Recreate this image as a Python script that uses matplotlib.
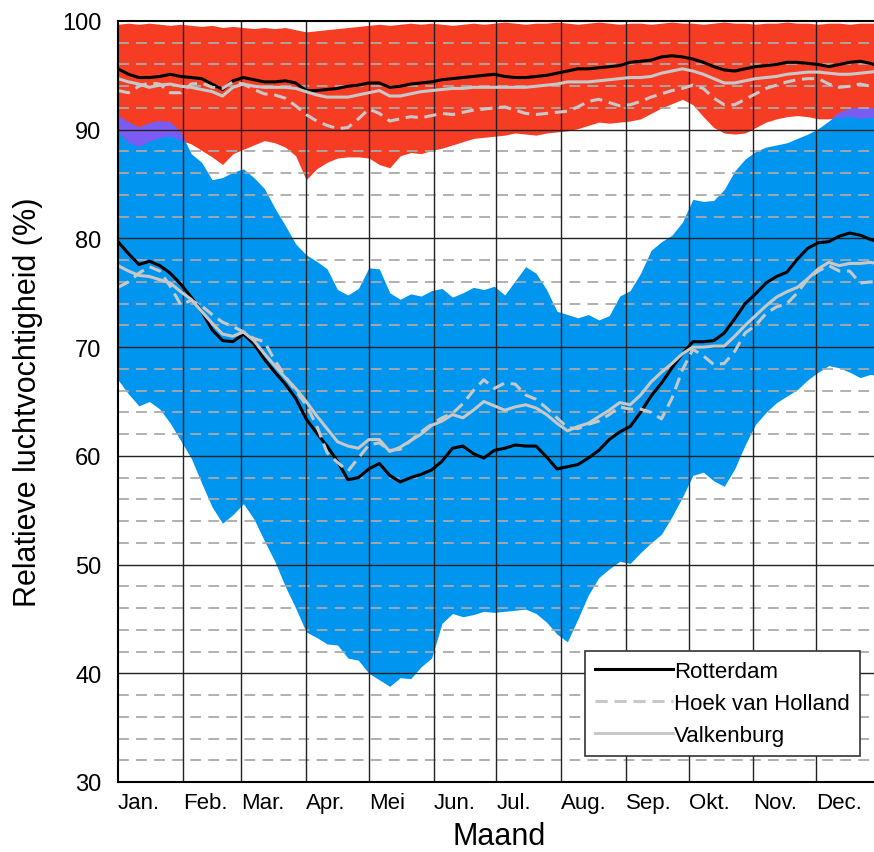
import numpy as np
import matplotlib
matplotlib.use('Agg')
import matplotlib.pyplot as plt

plt.rcParams['font.family'] = ['Liberation Sans', 'DejaVu Sans']

# day of year, every 5 days
days = np.arange(0, 366, 5)

month_starts = [0, 31, 59, 90, 120, 151, 181, 212, 243, 273, 304, 334]
month_labels = ['Jan.', 'Feb.', 'Mar.', 'Apr.', 'Mei', 'Jun.', 'Jul.',
                'Aug.', 'Sep.', 'Okt.', 'Nov.', 'Dec.']

# red band (upper envelope)
red_top = [99.7, 99.8, 99.7, 99.8, 99.7, 99.6, 99.7, 99.6, 99.5, 99.6,
           99.4, 99.5, 99.4, 99.3, 99.4, 99.3, 99.4, 99.2, 99.0, 99.1,
           99.2, 99.3, 99.4, 99.5, 99.6, 99.7, 99.6, 99.7, 99.8, 99.7,
           99.8, 99.7, 99.6, 99.7, 99.8, 99.7, 99.8, 99.9, 99.8, 99.7,
           99.8, 99.8, 99.9, 99.8, 99.7, 99.8, 99.9, 99.8, 99.7, 99.8,
           99.8, 99.7, 99.8, 99.9, 99.8, 99.8, 99.7, 99.8, 99.9, 99.8,
           99.8, 99.7, 99.8, 99.8, 99.9, 99.8, 99.8, 99.7, 99.8, 99.8,
           99.7, 99.8, 99.8, 99.8]
red_bot = [89.8, 88.8, 88.4, 88.9, 89.2, 89.4, 89.0, 88.7, 88.1, 87.5,
           86.8, 87.8, 88.2, 88.6, 89.0, 88.8, 88.4, 87.6, 85.4, 86.4,
           87.0, 87.4, 87.5, 87.5, 87.4, 86.8, 86.5, 87.6, 87.9, 87.8,
           88.1, 88.3, 88.6, 88.9, 89.2, 89.3, 89.4, 89.5, 89.7, 89.6,
           89.5, 89.7, 89.8, 89.9, 90.1, 90.4, 90.7, 90.6, 90.7, 90.8,
           91.0, 91.5, 92.0, 92.4, 92.8, 92.3, 91.2, 90.2, 89.7, 89.6,
           89.7, 90.2, 90.7, 91.0, 91.2, 91.3, 91.2, 91.0, 91.0, 91.1,
           91.2, 91.0, 91.1, 91.1]

# blue band (lower envelope)
blue_top = [91.3, 90.7, 90.2, 90.6, 90.8, 90.7, 89.8, 87.8, 87.0, 85.4,
            85.6, 86.1, 86.4, 85.6, 84.6, 82.8, 81.2, 79.5, 78.5, 77.9,
            77.2, 75.3, 74.8, 75.4, 77.3, 77.2, 75.0, 74.4, 74.9, 74.7,
            75.2, 75.4, 74.6, 75.0, 75.5, 75.3, 75.6, 74.8, 76.1, 77.4,
            76.8, 75.3, 73.3, 73.0, 72.7, 73.0, 72.5, 72.9, 74.7, 75.2,
            76.8, 78.9, 79.7, 80.3, 81.5, 83.6, 83.4, 83.5, 84.5, 86.2,
            87.3, 88.0, 88.4, 88.6, 88.8, 89.2, 89.6, 90.1, 90.8, 91.6,
            91.9, 92.1, 92.0, 91.8]
blue_bot = [67.0, 65.7, 64.6, 65.0, 64.3, 63.0, 61.4, 59.8, 57.5, 55.3,
            53.8, 54.6, 55.6, 54.2, 52.2, 50.3, 48.0, 46.0, 43.8, 43.3,
            42.7, 42.6, 41.4, 41.2, 40.0, 39.4, 38.8, 39.6, 39.5, 40.6,
            41.4, 44.6, 45.5, 45.2, 45.4, 45.7, 45.6, 45.7, 45.8, 45.9,
            45.5, 44.7, 43.6, 42.9, 45.0, 47.2, 48.8, 49.6, 50.3, 50.1,
            51.1, 52.0, 52.8, 54.4, 56.2, 58.2, 58.5, 57.7, 57.2, 58.8,
            61.0, 62.9, 64.0, 64.9, 65.5, 66.1, 67.0, 67.7, 68.3, 68.1,
            67.7, 67.2, 67.5, 67.3]

# stations, lower curves
rot_low = [79.7, 78.6, 77.6, 77.9, 77.5, 76.8, 75.8, 74.6, 73.3, 71.6,
           70.6, 70.5, 71.2, 70.3, 68.9, 67.7, 66.6, 65.3, 63.4, 62.1,
           60.9, 59.5, 57.8, 58.0, 58.8, 59.3, 58.2, 57.6, 58.0, 58.3,
           58.7, 59.5, 60.7, 60.9, 60.2, 59.8, 60.5, 60.7, 61.0, 60.9,
           60.9, 59.9, 58.8, 59.0, 59.2, 59.8, 60.5, 61.5, 62.2, 62.7,
           64.0, 65.5, 66.7, 68.1, 69.4, 70.5, 70.5, 70.6, 71.3, 72.6,
           74.0, 74.9, 75.9, 76.5, 76.9, 78.1, 79.1, 79.6, 79.7, 80.2,
           80.5, 80.3, 79.9, 79.6]
hoek_low = [75.5, 76.0, 76.8, 77.4, 77.0, 75.6, 73.9, 74.3, 73.8, 73.0,
            72.3, 71.9, 71.4, 70.8, 70.5, 68.8, 67.3, 66.0, 64.7, 62.8,
            60.3, 59.4, 58.6, 59.8, 61.0, 61.2, 60.5, 60.6, 61.4, 62.2,
            62.9, 63.5, 63.9, 64.8, 66.0, 67.0, 66.2, 66.7, 66.6, 65.6,
            65.2, 64.4, 63.5, 62.6, 62.5, 62.9, 63.2, 63.8, 64.5, 64.3,
            64.3, 64.0, 63.4, 65.3, 67.9, 69.8, 69.2, 68.4, 68.5, 69.6,
            71.3, 72.0, 73.1, 73.7, 74.0, 75.0, 76.3, 77.0, 77.5, 77.0,
            77.0, 75.9, 76.0, 76.0]
valk_low = [77.5, 77.0, 76.6, 76.5, 76.2, 75.9, 75.1, 74.4, 73.3, 72.2,
            71.2, 71.0, 71.4, 70.6, 69.4, 68.3, 67.2, 66.2, 65.0, 63.7,
            62.5, 61.3, 60.9, 60.7, 61.5, 61.5, 60.4, 60.8, 61.4, 62.0,
            62.8, 63.2, 63.8, 63.5, 64.2, 65.0, 64.6, 64.2, 64.5, 64.7,
            64.4, 63.8, 63.0, 62.3, 62.7, 63.0, 63.6, 64.2, 64.9, 64.7,
            65.6, 66.8, 67.7, 68.5, 69.4, 70.0, 70.0, 70.1, 70.1, 71.0,
            72.0, 72.9, 73.8, 74.6, 75.1, 75.5, 76.3, 77.2, 77.8, 77.5,
            77.7, 77.7, 77.8, 77.6]

# stations, upper curves
rot_up = [95.6, 95.1, 94.8, 94.8, 94.9, 95.1, 94.9, 94.8, 94.7, 94.2,
          93.7, 94.5, 94.8, 94.6, 94.4, 94.4, 94.5, 94.3, 93.6, 93.6,
          93.7, 93.8, 94.0, 94.1, 94.3, 94.3, 93.9, 94.0, 94.2, 94.3,
          94.4, 94.6, 94.7, 94.8, 94.9, 95.0, 95.1, 94.9, 94.8, 94.8,
          94.9, 95.0, 95.2, 95.4, 95.6, 95.6, 95.7, 95.8, 95.9, 96.2,
          96.3, 96.4, 96.7, 96.8, 96.7, 96.5, 96.2, 95.8, 95.5, 95.4,
          95.6, 95.8, 95.9, 96.0, 96.2, 96.2, 96.1, 96.0, 95.8, 96.0,
          96.2, 96.3, 96.1, 95.8]
hoek_up = [93.6, 93.4, 94.0, 94.3, 94.2, 93.4, 93.4, 94.2, 94.3, 93.9,
           93.8, 94.4, 94.2, 93.7, 93.3, 93.2, 92.9, 92.2, 91.4, 90.8,
           90.4, 90.1, 90.2, 91.0, 91.9, 91.5, 90.8, 91.0, 91.2, 91.1,
           91.3, 91.5, 91.4, 91.6, 91.8, 91.9, 92.0, 92.1, 91.8, 91.5,
           91.4, 91.5, 91.6, 91.7, 92.1, 92.6, 92.8, 92.5, 92.2, 92.3,
           92.6, 93.0, 93.3, 93.6, 93.8, 94.1, 93.8, 92.9, 92.3, 92.3,
           92.8, 93.3, 93.8, 94.1, 94.4, 94.6, 94.7, 94.7, 94.2, 93.9,
           94.0, 94.2, 94.0, 93.7]
valk_up = [94.7, 94.4, 94.2, 93.9, 94.1, 94.2, 94.0, 93.9, 93.7, 93.5,
           93.1, 93.9, 94.2, 94.0, 93.9, 93.9, 93.9, 93.8, 93.5, 93.2,
           93.0, 93.0, 93.0, 93.2, 93.4, 93.6, 93.1, 93.1, 93.3, 93.5,
           93.6, 93.7, 93.8, 93.8, 93.9, 93.9, 93.9, 93.9, 93.9, 93.9,
           94.0, 94.1, 94.2, 94.4, 94.4, 94.4, 94.5, 94.6, 94.7, 94.8,
           94.8, 94.9, 95.2, 95.4, 95.6, 95.4, 95.1, 94.7, 94.3, 94.3,
           94.5, 94.7, 94.8, 94.9, 95.1, 95.2, 95.3, 95.3, 95.2, 95.1,
           95.1, 95.2, 95.3, 95.4]

red = '#f63c22'
blue = '#0096f0'
purple = '#7a5cf2'
grey = '#c8c8c8'

fig = plt.figure(figsize=(8.74, 8.53), dpi=100)
# right edge runs a little past the picture, like the original
ax = fig.add_axes([118 / 874, 1 - 783 / 853, 763 / 874, 761 / 853])

rt, rb = np.array(red_top), np.array(red_bot)
bt, bb = np.array(blue_top), np.array(blue_bot)

ax.fill_between(days, rb, rt, color=red, lw=0, zorder=1)
ax.fill_between(days, bb, bt, color=blue, lw=0, zorder=1.2)
ax.fill_between(days, rb, bt, where=bt > rb, interpolate=True,
                color=purple, lw=0, zorder=1.4)

# grid on top of the bands
for v in range(32, 100, 2):
    if v % 10 == 0:
        ax.axhline(v, color='#222222', lw=1.0, zorder=2)
    else:
        ax.axhline(v, color='#aaaaaa', lw=1.3, ls=(0, (6, 4)), zorder=2)
for d in month_starts[1:]:
    ax.axvline(d, color='#222222', lw=1.0, zorder=2)

dash = (0, (4, 2.2))
for lo, hi, col, ls, lab in [(rot_low, rot_up, 'black', '-', 'Rotterdam'),
                             (hoek_low, hoek_up, grey, dash, 'Hoek van Holland'),
                             (valk_low, valk_up, grey, '-', 'Valkenburg')]:
    ax.plot(days, lo, color=col, ls=ls, lw=2.2, zorder=3, label=lab)
    ax.plot(days, hi, color=col, ls=ls, lw=2.2, zorder=3)

ax.set_xlim(0, 365)
ax.set_ylim(30, 100)
ax.set_yticks(range(30, 101, 10))
ax.set_xticks(month_starts)
ax.set_xticklabels(month_labels, ha='left')
ax.tick_params(axis='both', length=0)
ax.tick_params(axis='y', labelsize=17, pad=12)
ax.tick_params(axis='x', labelsize=16, pad=7)
for s in ax.spines.values():
    s.set_linewidth(1.5)
    s.set_zorder(4)

ax.set_ylabel('Relatieve luchtvochtigheid (%)', fontsize=22, labelpad=14)
ax.set_xlabel('Maand', fontsize=22, labelpad=6)

leg = ax.legend(loc='lower right', bbox_to_anchor=(0.972, 0.034), fontsize=16,
                handlelength=3.5, handletextpad=0.05, fancybox=False,
                framealpha=1, edgecolor='#333333', borderpad=0.45,
                labelspacing=0.5, borderaxespad=0)
leg.get_frame().set_linewidth(1.2)
leg.set_zorder(5)

fig.savefig('out.png', dpi=100)
